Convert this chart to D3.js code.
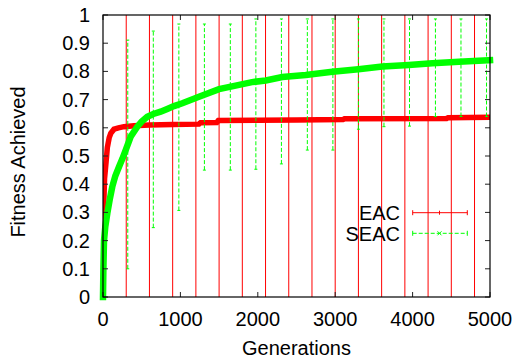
<!DOCTYPE html>
<html>
<head>
<meta charset="utf-8">
<script src="https://cdn.jsdelivr.net/npm/d3@7"></script>
<style>
  body { margin: 0; background: #fff; }
  text { font-family: "Liberation Sans", Arial, sans-serif; }
</style>
</head>
<body>
<div id="chart"></div>
<script>
/* EAC vs SEAC: fitness moyenne par génération, avec barres d'erreur */

// EAC mean curve
const eacGen = [0, 3, 6, 10, 20, 40, 56, 80, 100, 142, 200, 270, 400, 600, 900, 1240, 1260, 1470, 1490, 2000, 2500, 3100, 3120, 4440, 4460, 5000]
const eacFit = [0, 0.15, 0.26, 0.33, 0.42, 0.48, 0.53, 0.565, 0.58, 0.595, 0.6, 0.604, 0.607, 0.61, 0.612, 0.613, 0.618, 0.619, 0.626, 0.627, 0.628, 0.629, 0.632, 0.633, 0.636, 0.637]

// SEAC mean curve
const seacGen = [0, 5, 13, 30, 56, 90, 120, 160, 207, 250, 293, 357, 443, 500, 572, 650, 745, 830, 917, 1025, 1240, 1499, 1667, 1925, 2102, 2317, 2619, 2963, 3300, 3609, 3950, 4255, 4600, 5000]
const seacFit = [0, 0.1, 0.2, 0.25, 0.297, 0.35, 0.391, 0.43, 0.462, 0.49, 0.521, 0.568, 0.604, 0.622, 0.639, 0.649, 0.657, 0.667, 0.677, 0.687, 0.71, 0.737, 0.747, 0.762, 0.768, 0.78, 0.787, 0.799, 0.808, 0.817, 0.823, 0.829, 0.834, 0.84]

// error bars
const eacErrGen = [300, 600, 900, 1200, 1500, 1800, 2100, 2400, 2700, 3000, 3300, 3600, 3900, 4200, 4500, 4800]
const eacErrLow = [0, 0, 0, 0, 0, 0, 0, 0, 0, 0, 0, 0, 0, 0, 0, 0]
const eacErrHigh = [1, 1, 1, 1, 1, 1, 1, 1, 1, 1, 1, 1, 1, 1, 1, 1]

const seacErrGen = [320, 650, 980, 1310, 1645, 1975, 2305, 2640, 2970, 3300, 3630, 3960, 4295, 4625, 4955]
const seacErrLow = [0.10, 0.246, 0.307, 0.45, 0.45, 0.453, 0.472, 0.521, 0.521, 0.595, 0.604, 0.606, 0.64, 0.64, 0.64]
const seacErrHigh = [0.911, 0.943, 0.968, 0.968, 0.968, 0.986, 0.986, 0.986, 0.986, 0.986, 0.986, 0.986, 0.986, 0.986, 0.986]

const xTicks = [0, 1000, 2000, 3000, 4000, 5000]
const yTicks = [0, 0.1, 0.2, 0.3, 0.4, 0.5, 0.6, 0.7, 0.8, 0.9, 1]

const seriesNames = ["EAC", "SEAC"]

const W = 517, H = 358
const margin = { top: 15, right: 27, bottom: 61, left: 103 }
const fontSize = 20

const svg = d3.select("#chart").append("svg")
    .attr("width", W)
    .attr("height", H)

const x = d3.scaleLinear().domain([0, 5000]).range([margin.left, W - margin.right])
const y = d3.scaleLinear().domain([0, 1]).range([H - margin.bottom, margin.top])

svg.append("clipPath").attr("id", "plot")
    .append("rect")
    .attr("x", margin.left).attr("y", margin.top)
    .attr("width", x.range()[1] - x.range()[0])
    .attr("height", y.range()[0] - y.range()[1])

const plot = svg.append("g").attr("clip-path", "url(#plot)")

/* barres d'erreur EAC (rouge) */
const eacBars = eacErrGen.map((g, i) => ({ g: g, lo: eacErrLow[i], hi: eacErrHigh[i] }))
plot.append("g").selectAll("line")
    .data(eacBars)
    .join("line")
    .attr("x1", d => x(d.g)).attr("x2", d => x(d.g))
    .attr("y1", d => y(d.lo)).attr("y2", d => y(d.hi))
    .attr("stroke", "#ff0000")
    .attr("stroke-width", 1)

/* courbe EAC */
const line = d3.line().x(d => x(d[0])).y(d => y(d[1]))
plot.append("path")
    .datum(eacGen.map((g, i) => [g, eacFit[i]]))
    .attr("d", line)
    .attr("fill", "none")
    .attr("stroke", "#ff0000")
    .attr("stroke-width", 5.5)
    .attr("stroke-linecap", "square")

/* barres d'erreur SEAC (vert, pointillés) */
const seacBars = seacErrGen.map((g, i) => ({ g: g, lo: seacErrLow[i], hi: seacErrHigh[i] }))
const sb = plot.append("g").selectAll("g")
    .data(seacBars)
    .join("g")
sb.append("line")
    .attr("x1", d => x(d.g)).attr("x2", d => x(d.g))
    .attr("y1", d => y(d.lo)).attr("y2", d => y(d.hi))
    .attr("stroke", "#00ff00")
    .attr("stroke-width", 1)
    .attr("stroke-dasharray", "4,2")
sb.append("line")
    .attr("x1", d => x(d.g) - 1.5).attr("x2", d => x(d.g) + 1.5)
    .attr("y1", d => y(d.lo)).attr("y2", d => y(d.lo))
    .attr("stroke", "#00ff00")
sb.append("line")
    .attr("x1", d => x(d.g) - 1.5).attr("x2", d => x(d.g) + 1.5)
    .attr("y1", d => y(d.hi)).attr("y2", d => y(d.hi))
    .attr("stroke", "#00ff00")

/* courbe SEAC */
svg.append("path")
    .datum(seacGen.map((g, i) => [g, seacFit[i]]))
    .attr("d", line)
    .attr("fill", "none")
    .attr("stroke", "#00ff00")
    .attr("stroke-width", 6.5)
    .attr("stroke-linecap", "square")

/* cadre + graduations (style gnuplot, ticks vers l'intérieur) */
const x0 = x.range()[0], x1 = x.range()[1], y0 = y.range()[0], y1 = y.range()[1]
const tl = 5
const ticks = svg.append("g").attr("stroke", "#222").attr("stroke-width", 1)
xTicks.forEach(t => {
    ticks.append("line").attr("x1", x(t)).attr("x2", x(t)).attr("y1", y0).attr("y2", y0 - tl)
    ticks.append("line").attr("x1", x(t)).attr("x2", x(t)).attr("y1", y1).attr("y2", y1 + tl)
})
yTicks.forEach(t => {
    ticks.append("line").attr("x1", x0).attr("x2", x0 + tl).attr("y1", y(t)).attr("y2", y(t))
    ticks.append("line").attr("x1", x1).attr("x2", x1 - tl).attr("y1", y(t)).attr("y2", y(t))
})
svg.append("rect")
    .attr("x", x0).attr("y", y1)
    .attr("width", x1 - x0).attr("height", y0 - y1)
    .attr("fill", "none")
    .attr("stroke", "#000")
    .attr("stroke-width", 1.2)

svg.append("g").selectAll("text")
    .data(xTicks)
    .join("text")
    .attr("x", d => x(d))
    .attr("y", 326)
    .attr("text-anchor", "middle")
    .attr("font-size", fontSize)
    .text(d => d)

svg.append("g").selectAll("text")
    .data(yTicks)
    .join("text")
    .attr("x", 90)
    .attr("y", d => y(d) + 7)
    .attr("text-anchor", "end")
    .attr("font-size", fontSize)
    .text(d => d3.format("")(d))

svg.append("text")
    .attr("x", (x0 + x1) / 2)
    .attr("y", 355)
    .attr("text-anchor", "middle")
    .attr("font-size", fontSize)
    .text("Generations")

svg.append("text")
    .attr("transform", "translate(25,162) rotate(-90)")
    .attr("text-anchor", "middle")
    .attr("font-size", fontSize)
    .text("Fitness Achieved")

/* légende */
const leg = svg.append("g")
const legY = [212.7, 233.3]
const legCol = ["#ff0000", "#00ff00"]
seriesNames.forEach((n, i) => {
    leg.append("text")
        .attr("x", 400)
        .attr("y", legY[i] + 7.3)
        .attr("text-anchor", "end")
        .attr("font-size", fontSize)
        .text(n)
    leg.append("line")
        .attr("x1", 412.7).attr("x2", 467.3)
        .attr("y1", legY[i]).attr("y2", legY[i])
        .attr("stroke", legCol[i])
        .attr("stroke-dasharray", i == 1 ? "4,2" : null)
    ;[412.7, 467.3].forEach(lx => {
        leg.append("line")
            .attr("x1", lx).attr("x2", lx)
            .attr("y1", legY[i] - 2.5).attr("y2", legY[i] + 2.5)
            .attr("stroke", legCol[i])
    })
})
// marqueurs au milieu: + pour EAC, x pour SEAC
leg.append("line").attr("x1", 439.5).attr("x2", 439.5).attr("y1", legY[0] - 2).attr("y2", legY[0] + 2).attr("stroke", "#ff0000")
leg.append("path")
    .attr("d", `M${437.5},${legY[1] - 2}L${441.5},${legY[1] + 2}M${437.5},${legY[1] + 2}L${441.5},${legY[1] - 2}`)
    .attr("stroke", "#00ff00")
</script>
</body>
</html>
